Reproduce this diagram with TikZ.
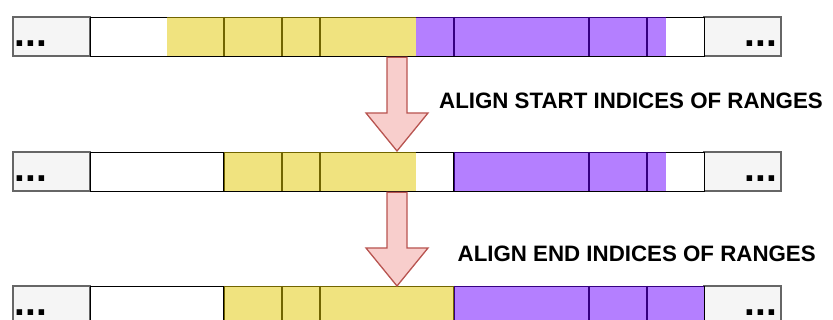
\documentclass[tikz,border=0pt]{standalone}
\usepackage{fontspec}
\setmainfont{Liberation Sans}
\usetikzlibrary{calc}

\definecolor{edgegray}{HTML}{666666}
\definecolor{padgray}{HTML}{F5F5F5}
\definecolor{rangeA}{HTML}{E3C800}
\definecolor{rangeB}{HTML}{6A00FF}
\definecolor{arrowfill}{HTML}{F8CECC}
\definecolor{arrowedge}{HTML}{B85450}

\tikzset{
  padbox/.style={draw=edgegray, fill=padgray, line width=1.3pt},
  cellrow/.style={draw=black, fill=white, line width=1.3pt, inner sep=0pt,
                  minimum width=614pt, minimum height=39pt, anchor=north west},
  celldiv/.style={draw=black, line width=1.3pt},
  rangeyellow/.style={fill=rangeA, fill opacity=0.5},
  rangeviolet/.style={fill=rangeB, fill opacity=0.5},
  stepnote/.style={font=\bfseries\fontsize{22.3}{26}\selectfont, inner sep=0pt, anchor=base},
  moredots/.style={font=\bfseries\fontsize{38.8}{40}\selectfont, inner sep=0pt},
  shiftarrow/.style={draw=arrowedge, fill=arrowfill, line width=1.3pt, line join=miter},
}

% one array row: padding boxes, the cells and their dividers
\newcommand\cellarray[2]{%
  \draw[padbox] (13,#1) rectangle (90,#1+39);
  \draw[padbox] (704,#1) rectangle (781,#1+39);
  \node[cellrow] (#2) at (90,#1) {};
  \foreach \xd in {224,282,320,454,589,647}
    \draw[celldiv] (\xd,#1) -- (\xd,#1+39);
  \node[moredots, anchor=base west] (#2l) at (14.5,#1+30) {...};
  \node[moredots, anchor=base east] (#2r) at (777,#1+30) {...};
}

% hollow block arrow from a top point down to a tip
\newcommand\blockarrow[2]{%
  \draw[shiftarrow] ([xshift=-10pt]#1) -- ([xshift=10pt]#1)
    -- ([xshift=10pt,yshift=38pt]#2) -- ([xshift=31pt,yshift=38pt]#2)
    -- (#2) -- ([xshift=-31pt,yshift=38pt]#2) -- ([xshift=-10pt,yshift=38pt]#2)
    -- cycle;
}

\begin{document}
\begin{tikzpicture}[x=1pt, y=-1pt]
  \useasboundingbox (0,0) rectangle (833,320);
  \clip (0,0) rectangle (833,320);

  % unaligned ranges
  \cellarray{17}{rowA}
  \fill[rangeyellow] (167,17) rectangle (416,56);
  \fill[rangeviolet] (416,17) rectangle (666,56);

  % start indices aligned
  \cellarray{152}{rowB}
  \fill[rangeyellow] (224,152) rectangle (416,191);
  \fill[rangeviolet] (454,152) rectangle (666,191);

  % start and end indices aligned
  \cellarray{286}{rowC}
  \fill[rangeyellow] (224,286) rectangle (454,325);
  \fill[rangeviolet] (454,286) rectangle (704,325);

  \coordinate (topA) at (rowA.south -| 397,0);
  \coordinate (tipA) at ($(rowB.north -| 397,0)+(0,-1)$);
  \coordinate (topB) at (rowB.south -| 397,0);
  \coordinate (tipB) at (rowC.north -| 397,0);
  \blockarrow{topA}{tipA}
  \blockarrow{topB}{tipB}

  \node[stepnote] (noteA) at (631,109) {ALIGN START INDICES OF RANGES};
  \node[stepnote] (noteB) at (636.7,262) {ALIGN END INDICES OF RANGES};
\end{tikzpicture}
\end{document}
